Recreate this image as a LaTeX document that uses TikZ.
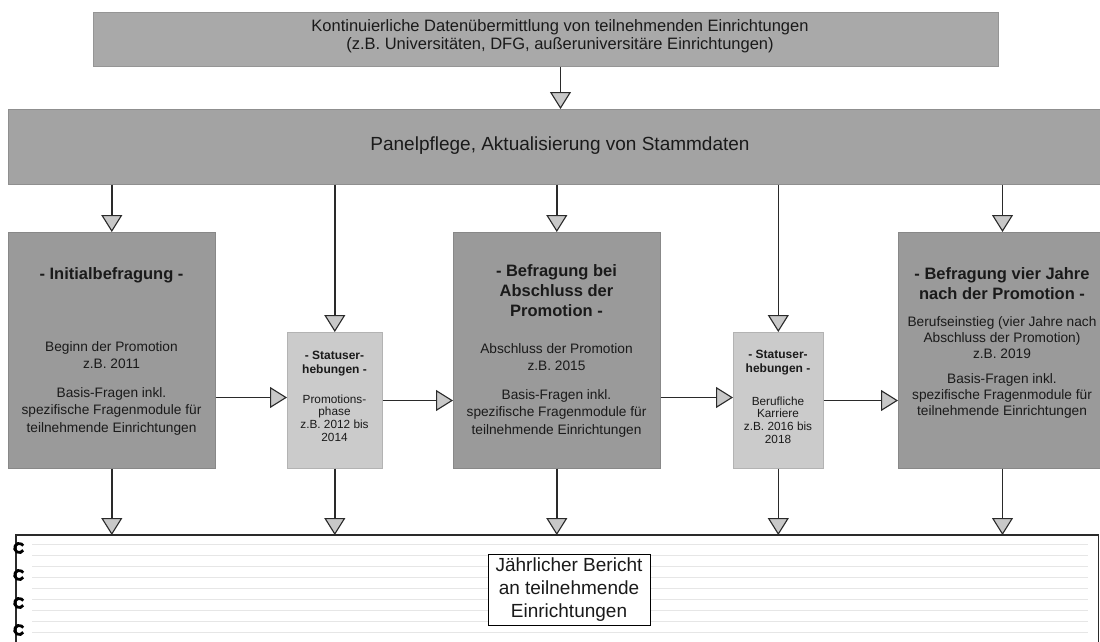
\documentclass[tikz,border=0pt]{standalone}
\usepackage{fontspec}
\setmainfont{Liberation Sans}
\usetikzlibrary{arrows.meta}
\definecolor{topgray}{HTML}{A9A9A9}
\definecolor{panelgray}{HTML}{A3A3A3}
\definecolor{boxgray}{HTML}{9A9A9A}
\definecolor{smallgray}{HTML}{CBCBCB}
\definecolor{ink}{HTML}{1A1A1A}
\definecolor{linec}{HTML}{2A2A2A}
\definecolor{tipfill}{HTML}{C8C8C8}
\definecolor{ruleline}{HTML}{E6E6E6}
\tikzset{
  grayrect/.style={fill=#1, draw=#1!88!black, line width=0.6pt, inner sep=0pt, anchor=north west},
  txt/.style={text=ink, align=center, inner sep=0pt},
  topfont/.style={font=\fontsize{16.5}{18}\selectfont},
  panelfont/.style={font=\fontsize{19}{22}\selectfont},
  titlefont/.style={font=\bfseries\fontsize{16.5}{20}\selectfont},
  bodyfont/.style={font=\fontsize{13.7}{17.5}\selectfont},
  stitlefont/.style={font=\bfseries\fontsize{12}{14}\selectfont},
  sbodyfont/.style={font=\fontsize{11.8}{12.6}\selectfont},
  conn/.style={draw=linec, line width=1.4pt, -{Triangle[length=17pt,width=21pt,fill=tipfill,line width=1.1pt]}},
  nbline/.style={draw=linec, line width=1.3pt},
}
\begin{document}
\begin{tikzpicture}[x=1pt,y=-1pt]
\useasboundingbox (0,0) rectangle (1100,642);
\fill[white] (0,0) rectangle (1100,642);

% top and panel bars
\node[grayrect=topgray, minimum width=905pt, minimum height=54pt] (top) at (93,12) {};
\node[txt, topfont] (toptext) at (560,36) {Kontinuierliche Datenübermittlung von teilnehmenden Einrichtungen\\(z.B. Universitäten, DFG, außeruniversitäre Einrichtungen)};
\node[grayrect=panelgray, minimum width=1092pt, minimum height=75pt] (panel) at (8,109) {};
\node[txt, panelfont] (paneltext) at (560,146) {Panelpflege, Aktualisierung von Stammdaten};

% survey boxes
\node[grayrect=boxgray, minimum width=207pt, minimum height=236pt] (box1) at (8,232) {};
\node[grayrect=smallgray, minimum width=95pt, minimum height=136pt] (small1) at (287,332) {};
\node[grayrect=boxgray, minimum width=207pt, minimum height=236pt] (box2) at (453,232) {};
\node[grayrect=smallgray, minimum width=90pt, minimum height=136pt] (small2) at (733,332) {};
\node[grayrect=boxgray, minimum width=202pt, minimum height=236pt] (box3) at (898,232) {};

\node[txt, titlefont] (t1) at (111.5,275) {- Initialbefragung -};
\node[txt, bodyfont] (b1) at (111.5,388) {Beginn der Promotion\\z.B. 2011\\[11pt]Basis-Fragen inkl.\\spezifische Fragenmodule für\\teilnehmende Einrichtungen};

\node[txt, stitlefont] (st1) at (334.5,364) {- Statuser-\\hebungen -};
\node[txt, sbodyfont] (sb1) at (334.5,418) {Promotions-\\phase\\z.B. 2012 bis\\2014};

\node[txt, titlefont] (t2) at (556.5,291) {- Befragung bei\\Abschluss der\\Promotion -};
\node[txt, bodyfont] (b2) at (556.5,390) {Abschluss der Promotion\\z.B. 2015\\[11pt]Basis-Fragen inkl.\\spezifische Fragenmodule für\\teilnehmende Einrichtungen};

\node[txt, stitlefont] (st2) at (778,362.5) {- Statuser-\\hebungen -};
\node[txt, sbodyfont] (sb2) at (778,420) {Berufliche\\Karriere\\z.B. 2016 bis\\2018};

\node[txt, titlefont] (t3) at (1002,284) {- Befragung vier Jahre\\nach der Promotion -};
\node[txt, font=\fontsize{13.7}{16}\selectfont] (b3) at (1002,367) {Berufseinstieg (vier Jahre nach\\Abschluss der Promotion)\\z.B. 2019\\[9pt]Basis-Fragen inkl.\\spezifische Fragenmodule für\\teilnehmende Einrichtungen};

% notebook
\node[inner sep=0pt, minimum width=1082pt, minimum height=107pt, anchor=north west] (nb) at (16,535) {};
\foreach \yy in {544,555,566,577,588,599,610,621,632}
  \draw[ruleline, line width=0.9pt] (32,\yy) -- (1088,\yy);
\draw[nbline] (nb.south west) -- (nb.north west) -- (nb.north east) -- (nb.south east);
\foreach \yy in {548,575,603,630}
  \draw[black, line width=2.8pt] (23.2,\yy+2.3) arc[start angle=30, end angle=330, radius=4.6];
\node[draw=black, fill=white, line width=0.8pt, inner sep=0pt, minimum width=162pt, minimum height=71pt, align=center, text=ink, font=\fontsize{19}{23}\selectfont] (rep) at (569,589.5) {Jährlicher Bericht\\an teilnehmende\\Einrichtungen};

% connectors
\coordinate (ax) at (560.5,0);
\coordinate (b3x) at (1002.5,0);
\coordinate (hA) at (0,397.5);
\coordinate (hB) at (0,400.5);
\draw[conn] (top.south -| ax) -- (panel.north -| ax);
\draw[conn] (panel.south -| box1.north) -- (box1.north);
\draw[conn] (panel.south -| small1.north) -- (small1.north);
\draw[conn] (panel.south -| box2.north) -- (box2.north);
\draw[conn] (panel.south -| small2.north) -- (small2.north);
\draw[conn] (panel.south -| b3x) -- (box3.north -| b3x);

\draw[conn] (box1.east |- hA) -- (small1.west |- hA);
\draw[conn] (small1.east |- hB) -- (box2.west |- hB);
\draw[conn] (box2.east |- hA) -- (small2.west |- hA);
\draw[conn] (small2.east |- hB) -- (box3.west |- hB);

\draw[conn] (box1.south) -- (box1.south |- nb.north);
\draw[conn] (small1.south) -- (small1.south |- nb.north);
\draw[conn] (box2.south) -- (box2.south |- nb.north);
\draw[conn] (small2.south) -- (small2.south |- nb.north);
\draw[conn] (box3.south -| b3x) -- (nb.north -| b3x);
\end{tikzpicture}
\end{document}
